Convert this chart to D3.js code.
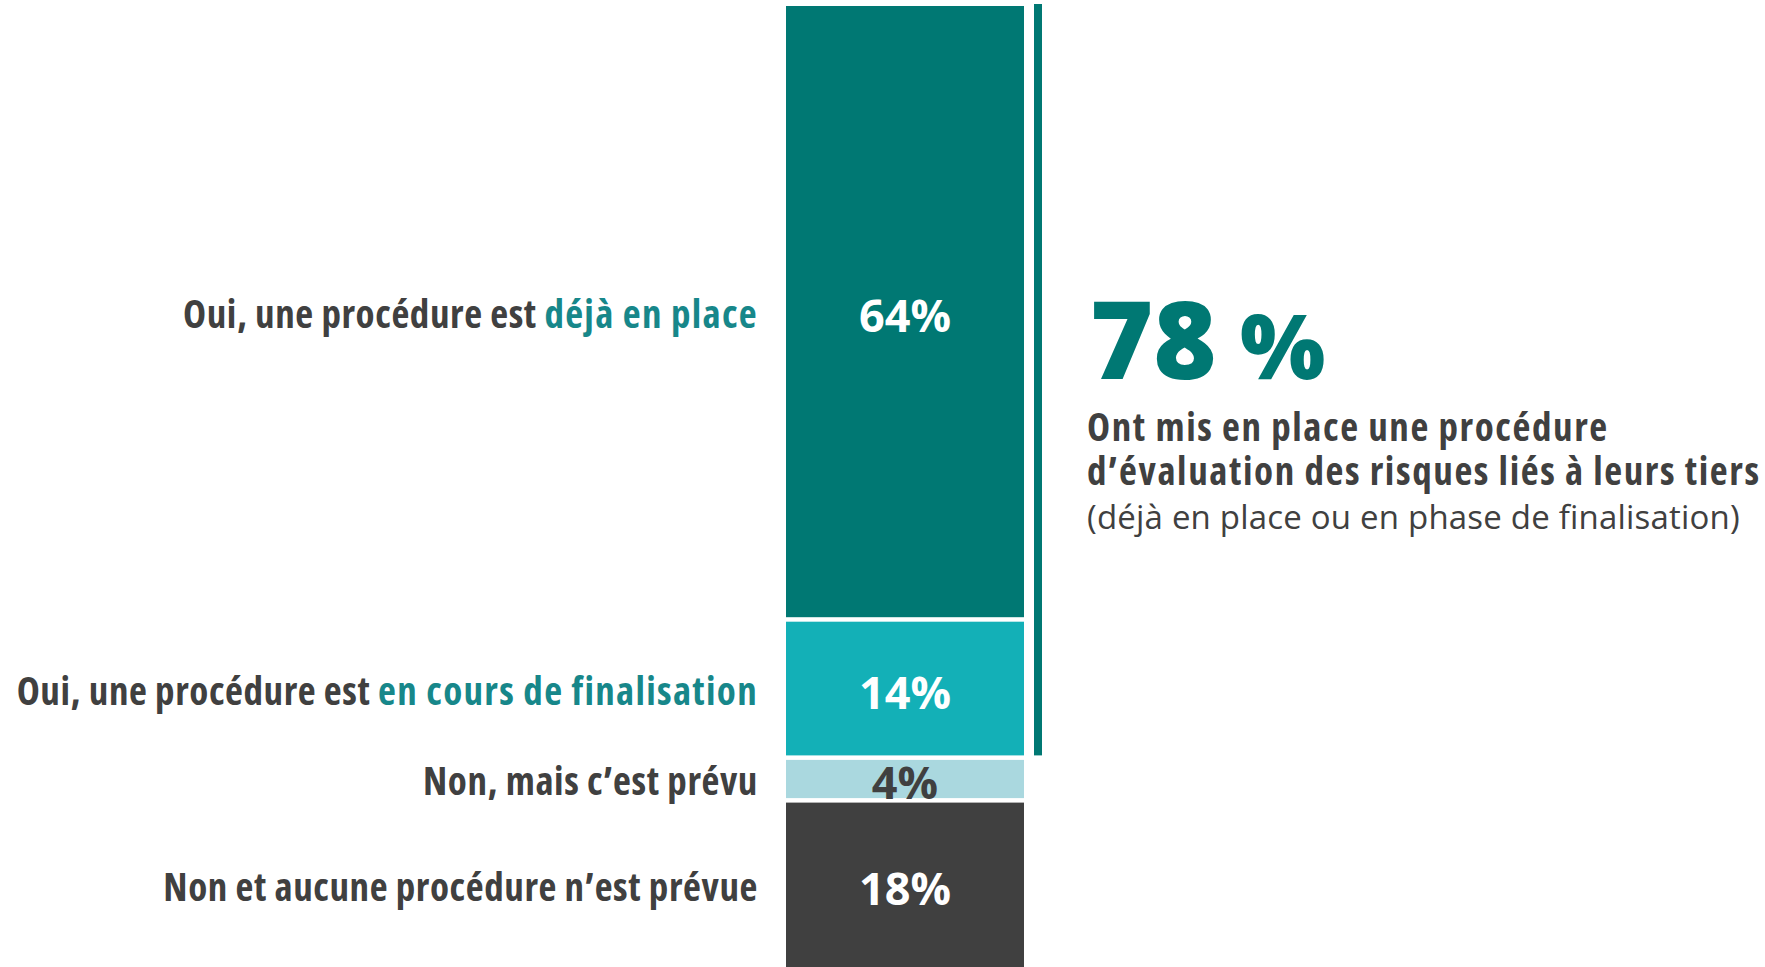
<!DOCTYPE html>
<html>
<head>
<meta charset="utf-8">
<script src="https://cdn.jsdelivr.net/npm/d3@7"></script>
<style>
  html, body { margin: 0; padding: 0; background: #fff; }
  svg { display: block; font-family: "Open Sans", Lato, sans-serif; }
  .narrow { font-stretch: 75%; }
</style>
</head>
<body>
<div id="chart"></div>
<script>
// answers, stacked top to bottom
const labelLead = [
  "Oui, une procédure est ",
  "Oui, une procédure est ",
  "Non, mais c’est prévu",
  "Non et aucune procédure n’est prévue"
]
const labelAccent = ["déjà en place", "en cours de finalisation", "", ""]
const values = [64, 14, 4, 18]
const valueLabels = ["64%", "14%", "4%", "18%"]
const barColors = ["#007873", "#13b0b7", "#aad8df", "#404040"]
const valueColors = ["#fff", "#fff", "#404040", "#fff"]

// callout for the first two answers
const calloutValue = "78"
const calloutLines = [
  "Ont mis en place une procédure",
  "d’évaluation des risques liés à leurs tiers"
]
const calloutNote = "(déjà en place ou en phase de finalisation)"

const width = 1765
const height = 967
const dark = "#404040"
const teal = "#007873"
const accent = "#17878a"
const gap = 4.5

const svg = d3.select("#chart")
  .append("svg")
  .attr("width", width)
  .attr("height", height)

// vertical scale: percent -> pixels
const y = d3.scaleLinear().domain([0, 100]).range([6, 961])
const x = d3.scaleBand().domain(["all"]).range([786, 1024])

const starts = d3.cumsum([0, ...values.slice(0, -1)])
const bars = values.map((v, i) => ({
  value: v,
  i,
  y0: y(starts[i]) + i * gap,
  y1: y(starts[i] + v) + i * gap
}))
// middle of the part of a bar that is on screen
const mid = d => (d.y0 + Math.min(d.y1, height)) / 2

svg.selectAll("rect.bar")
  .data(bars)
  .enter()
  .append("rect")
  .attr("class", "bar")
  .attr("x", x("all"))
  .attr("width", x.bandwidth())
  .attr("y", d => d.y0)
  .attr("height", d => d.y1 - d.y0)
  .style("fill", d => barColors[d.i])

// value labels inside the bar
svg.selectAll("text.value")
  .data(bars)
  .enter()
  .append("text")
  .attr("class", "value")
  .attr("x", x("all") + x.bandwidth() / 2)
  .attr("y", mid)
  .attr("dy", "0.45em")
  .style("text-anchor", "middle")
  .style("font-weight", 700)
  .style("font-size", "45px")
  .style("fill", d => valueColors[d.i])
  .text(d => valueLabels[d.i])

// category labels on the left
const labels = svg.selectAll("text.label")
  .data(bars)
  .enter()
  .append("text")
  .attr("class", "label narrow")
  .attr("x", 758)
  .attr("y", mid)
  .attr("dy", "0.42em")
  .style("text-anchor", "end")
  .style("font-weight", 700)
  .style("font-size", "39px")
  .style("letter-spacing", "0.6px")

labels.append("tspan")
  .style("fill", dark)
  .text(d => labelLead[d.i])
labels.append("tspan")
  .style("fill", accent)
  .style("letter-spacing", "1.3px")
  .text(d => labelAccent[d.i])

// bracket for the "yes" answers
svg.append("rect")
  .attr("x", 1034)
  .attr("width", 8)
  .attr("y", bars[0].y0 - 2)
  .attr("height", bars[1].y1 - bars[0].y0 + 2)
  .style("fill", teal)

const big = svg.append("text")
  .attr("x", 1090)
  .attr("y", 379)
  .style("font-weight", 800)
  .style("fill", teal)
big.append("tspan").style("font-size", "108px").text(calloutValue)
big.append("tspan").style("font-size", "90px").text(" %")

svg.selectAll("text.callout")
  .data(calloutLines)
  .enter()
  .append("text")
  .attr("class", "callout narrow")
  .attr("x", 1087)
  .attr("y", (d, i) => 441 + i * 44)
  .style("font-weight", 700)
  .style("font-size", "39px")
  .style("letter-spacing", "1.6px")
  .style("fill", dark)
  .text(d => d)

svg.append("text")
  .attr("x", 1087)
  .attr("y", 529)
  .style("font-weight", 400)
  .style("font-size", "33px")
  .style("letter-spacing", "0.2px")
  .style("fill", dark)
  .text(calloutNote)
</script>
</body>
</html>
